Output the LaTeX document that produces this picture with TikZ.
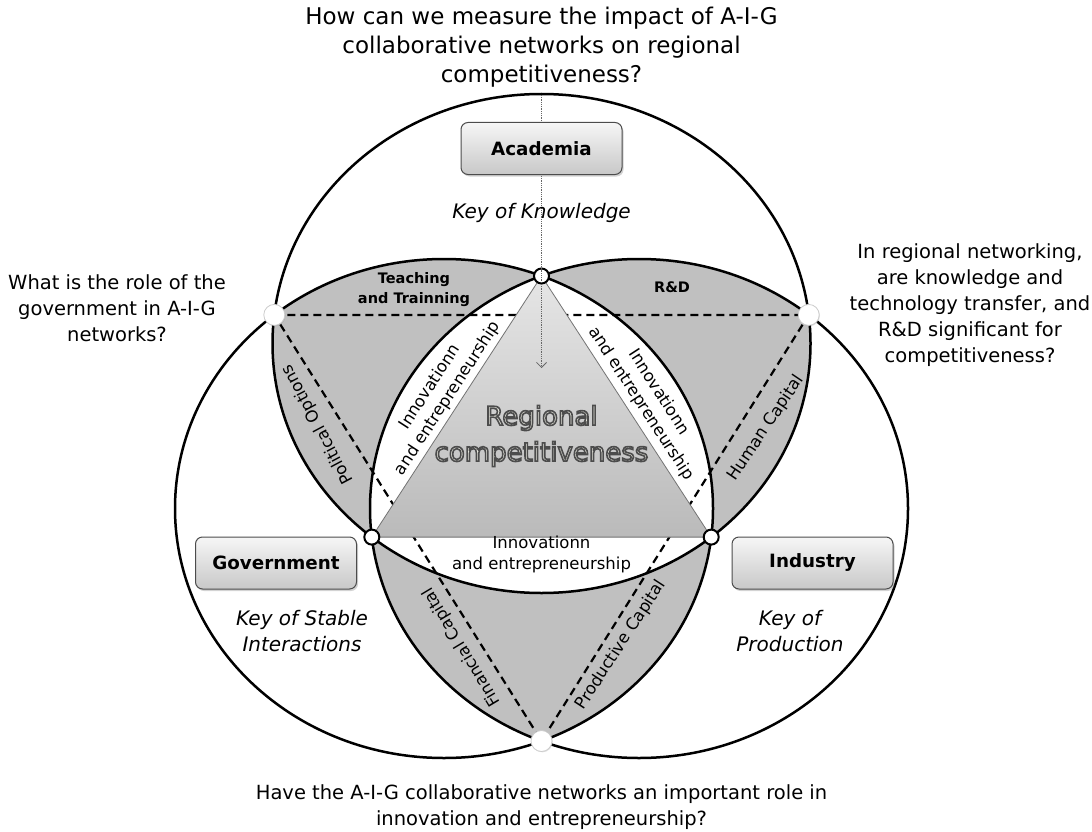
\documentclass[tikz,border=0pt]{standalone}
\usepackage{fontspec}
\setmainfont{DejaVu Sans}
\usetikzlibrary{shadows,arrows.meta}
\definecolor{lensgray}{RGB}{192,192,192}
\definecolor{boxtop}{RGB}{246,246,246}
\definecolor{boxbottom}{RGB}{200,200,200}
\definecolor{glowfill}{RGB}{236,236,226}
\def\acadring{(541.5,343.5) ellipse [x radius=269, y radius=249.5]}
\def\govring{(444,508.5) ellipse [x radius=269, y radius=249.5]}
\def\indring{(639,508.5) ellipse [x radius=269, y radius=249.5]}
\newcommand\haloed[1]{\special{pdf:literal direct 1.6 w 0.3 G 2 Tr}#1\special{pdf:literal direct 0 Tr}}
\tikzset{
  keybox/.style={draw=black!70, line width=1pt, rounded corners=7pt, top color=boxtop, bottom color=boxbottom,
    minimum width=161pt, minimum height=52pt, font=\fontsize{18.3}{22}\selectfont\bfseries,
    drop shadow={shadow xshift=1.5pt, shadow yshift=-2pt, opacity=0.35}},
  question/.style={align=center, font=\fontsize{19.5}{26}\selectfont},
  bigquestion/.style={align=center, font=\fontsize{23}{29}\selectfont},
  keytext/.style={align=center, font=\fontsize{20}{26}\selectfont\itshape},
  lenstext/.style={align=center, font=\fontsize{14.5}{20}\selectfont\bfseries},
  flowtext/.style={align=center, font=\fontsize{16.5}{21}\selectfont},
  bigtext/.style={align=center, font=\fontsize{26}{36}\selectfont},
  venn/.style={line width=2.5pt},
  hidden/.style={line width=2.2pt, dash pattern=on 8pt off 5pt},
  outerdot/.style={circle, fill=white, draw=black!20, line width=0.8pt, inner sep=0pt, minimum size=21pt,
    drop shadow={shadow xshift=0.8pt, shadow yshift=-0.8pt, opacity=0.25}},
  innerdot/.style={circle, fill=white, draw=black, line width=2pt, inner sep=0pt, minimum size=15pt},
}
\begin{document}
\begin{tikzpicture}[x=1pt,y=-1pt]
\useasboundingbox (0,0) rectangle (1092,832);

\coordinate (og) at (274.3,314.9);
\coordinate (oi) at (808.7,314.9);
\coordinate (ob) at (541.5,741);
\coordinate (it) at (541.5,276);
\coordinate (il) at (371.8,537.1);
\coordinate (ir) at (711.2,537.1);

\begin{scope}
\clip \acadring;
\fill[lensgray] \govring;
\fill[lensgray] \indring;
\end{scope}
\begin{scope}
\clip \govring;
\fill[lensgray] \indring;
\end{scope}
\begin{scope}
\clip \acadring;
\clip \govring;
\fill[white] \indring;
\end{scope}

\path[draw,hidden] (og) -- (oi) -- (ob) -- cycle;
\path[draw=black!55, line width=0.8pt, top color=black!10, bottom color=black!27] (it) -- (il) -- (ir) -- cycle;

\draw[venn] \acadring;
\draw[venn] \govring;
\draw[venn] \indring;

\node[outerdot] (ag) at (og) {};
\node[outerdot] (ai) at (oi) {};
\node[outerdot] (gi) at (ob) {};
\node[innerdot] (top) at (it) {};
\node[innerdot] (left) at (il) {};
\node[innerdot] (right) at (ir) {};

\node[lenstext] (teach) at (414,290) {Teaching\\and Trainning};
\node[lenstext] (rd) at (672,287) {R\&D};
\node[flowtext, rotate=118] (polit) at (318,424) {Political Options};
\node[flowtext, rotate=56] (human) at (766,428) {Human Capital};
\node[flowtext, rotate=121] (finan) at (462,647) {Financial Capital};
\node[flowtext, rotate=57] (produ) at (621,645) {Productive Capital};
\node[flowtext, rotate=57] (innol) at (439,393) {Innovationn\\and entrepreneurship};
\node[flowtext, rotate=-57] (innor) at (650,398) {Innovationn\\and entrepreneurship};
\node[flowtext] (innob) at (541.5,554.5) {Innovationn\\and entrepreneurship};

\node[bigtext, text=glowfill] (region) at (541.5,436) {\haloed{Regional}\\\haloed{competitiveness}};

\coordinate (qstart) at (541.5,95);
\coordinate (qend) at (541.5,368);
\draw[black!60, densely dotted, line width=0.8pt, -{Straight Barb[length=5pt,width=10pt]}] (qstart) -- (qend);

\node[keybox] (acad) at (541.5,148.5) {Academia};
\node[keybox] (gov) at (276,563) {Government};
\node[keybox] (ind) at (812.5,563) {Industry};
\node[keytext] (kacad) at (541.5,213) {Key of Knowledge};
\node[keytext] (kgov) at (302,631) {Key of Stable\\Interactions};
\node[keytext] (kind) at (790,631) {Key of\\Production};

\node[bigquestion] (qtop) at (541.5,47) {How can we measure the impact of A-I-G\\collaborative networks on regional\\competitiveness?};
\node[question] (qleft) at (117,308) {What is the role of the\\government in A-I-G\\networks?};
\node[question] (qright) at (970,305.5) {In regional networking,\\are knowledge and\\technology transfer, and\\R\&D significant for\\competitiveness?};
\node[question] (qbottom) at (541.5,807.5) {Have the A-I-G collaborative networks an important role in\\innovation and entrepreneurship?};
\end{tikzpicture}
\end{document}
